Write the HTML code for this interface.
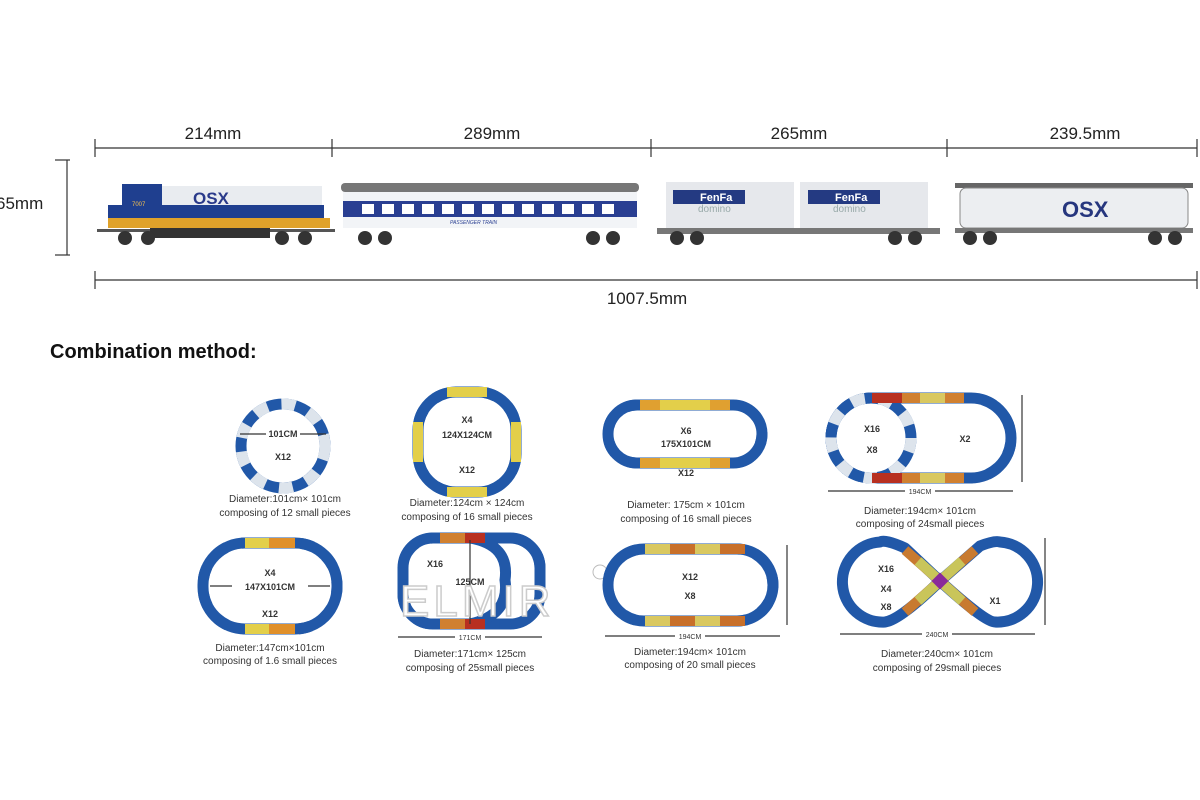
<!DOCTYPE html>
<html><head><meta charset="utf-8"><style>
html,body{margin:0;padding:0;background:#fff;}
svg{display:block;font-family:"Liberation Sans",sans-serif;}
.t{font-size:17px;fill:#222;}
.c{font-size:10px;fill:#333;}
.b{font-size:9px;font-weight:bold;fill:#333;}
.tb{fill:none;stroke:#2158a8;stroke-width:11;}
.tl{fill:none;stroke:#dde4ec;stroke-width:11;stroke-dasharray:14 14;}
.dl{stroke:#333;stroke-width:1.2;fill:none;}
</style></head><body>
<svg width="1200" height="800" viewBox="0 0 1200 800">
<g class="dl" stroke="#222" stroke-width="2">
<line x1="95" y1="148" x2="1197" y2="148"/>
<line x1="95" y1="139" x2="95" y2="157"/><line x1="332" y1="139" x2="332" y2="157"/>
<line x1="651" y1="139" x2="651" y2="157"/><line x1="947" y1="139" x2="947" y2="157"/>
<line x1="1197" y1="139" x2="1197" y2="157"/>
<line x1="95" y1="280" x2="1197" y2="280"/>
<line x1="95" y1="271" x2="95" y2="289"/><line x1="1197" y1="271" x2="1197" y2="289"/>
<line x1="67" y1="160" x2="67" y2="255"/>
<line x1="55" y1="160" x2="70" y2="160"/><line x1="55" y1="255" x2="70" y2="255"/>
</g>
<text class="t" x="213" y="139" text-anchor="middle">214mm</text>
<text class="t" x="492" y="139" text-anchor="middle">289mm</text>
<text class="t" x="799" y="139" text-anchor="middle">265mm</text>
<text class="t" x="1085" y="139" text-anchor="middle">239.5mm</text>
<text class="t" x="-4" y="209">65mm</text>
<text class="t" x="647" y="304" text-anchor="middle">1007.5mm</text>

<g>
<rect x="97" y="229" width="238" height="3" fill="#555"/>
<rect x="122" y="184" width="40" height="38" fill="#1f3f8f"/>
<rect x="162" y="186" width="160" height="30" fill="#e9ecf0"/>
<rect x="108" y="205" width="216" height="13" fill="#1f3f8f"/>
<rect x="108" y="218" width="222" height="10" fill="#e0a22a"/>
<text x="193" y="204" font-size="17" font-weight="bold" fill="#2a3a8a">OSX</text>
<text x="132" y="206" font-size="6" fill="#f4c050">7007</text>
<rect x="150" y="228" width="120" height="10" fill="#333"/>
<circle cx="125" cy="238" r="7" fill="#333"/><circle cx="148" cy="238" r="7" fill="#333"/>
<circle cx="282" cy="238" r="7" fill="#333"/><circle cx="305" cy="238" r="7" fill="#333"/>
</g>
<g>
<rect x="341" y="183" width="298" height="9" rx="4" fill="#777"/>
<rect x="343" y="192" width="294" height="36" fill="#f2f4f7"/>
<rect x="343" y="201" width="294" height="16" fill="#2a3f92"/>
<g fill="#fff">
<rect x="362" y="204" width="12" height="10"/><rect x="382" y="204" width="12" height="10"/><rect x="402" y="204" width="12" height="10"/><rect x="422" y="204" width="12" height="10"/><rect x="442" y="204" width="12" height="10"/><rect x="462" y="204" width="12" height="10"/><rect x="482" y="204" width="12" height="10"/><rect x="502" y="204" width="12" height="10"/><rect x="522" y="204" width="12" height="10"/><rect x="542" y="204" width="12" height="10"/><rect x="562" y="204" width="12" height="10"/><rect x="582" y="204" width="12" height="10"/><rect x="602" y="204" width="12" height="10"/></g>
<text x="450" y="224" font-size="5" fill="#2a3f92" font-style="italic">PASSENGER TRAIN</text>
<circle cx="365" cy="238" r="7" fill="#333"/><circle cx="385" cy="238" r="7" fill="#333"/>
<circle cx="593" cy="238" r="7" fill="#333"/><circle cx="613" cy="238" r="7" fill="#333"/>
</g>
<g>
<rect x="666" y="182" width="128" height="46" fill="#e6e8ec"/>
<rect x="800" y="182" width="128" height="46" fill="#e6e8ec"/>
<rect x="673" y="190" width="72" height="14" fill="#243a82"/>
<rect x="808" y="190" width="72" height="14" fill="#243a82"/>
<text x="700" y="201" font-size="11" font-weight="bold" fill="#fff">FenFa</text>
<text x="835" y="201" font-size="11" font-weight="bold" fill="#fff">FenFa</text>
<text x="698" y="212" font-size="10" fill="#9aa">domino</text>
<text x="833" y="212" font-size="10" fill="#9aa">domino</text>
<rect x="657" y="228" width="283" height="6" fill="#777"/>
<circle cx="677" cy="238" r="7" fill="#333"/><circle cx="697" cy="238" r="7" fill="#333"/>
<circle cx="895" cy="238" r="7" fill="#333"/><circle cx="915" cy="238" r="7" fill="#333"/>
</g>
<g>
<rect x="955" y="183" width="238" height="5" fill="#666"/>
<rect x="960" y="188" width="228" height="40" rx="6" fill="#eceef1" stroke="#888"/>
<text x="1062" y="217" font-size="22" font-weight="bold" fill="#26367e">OSX</text>
<rect x="955" y="228" width="238" height="5" fill="#777"/>
<circle cx="970" cy="238" r="7" fill="#333"/><circle cx="990" cy="238" r="7" fill="#333"/>
<circle cx="1155" cy="238" r="7" fill="#333"/><circle cx="1175" cy="238" r="7" fill="#333"/>
</g>

<text x="50" y="358" font-size="20" font-weight="bold" fill="#111">Combination method:</text>

<circle class="tb" cx="283" cy="446" r="42"/>
<circle class="tl" cx="283" cy="446" r="42"/>
<line class="dl" x1="240" y1="434" x2="326" y2="434"/>
<rect x="266" y="429" width="34" height="10" fill="#fff"/>
<text class="b" x="283" y="437" text-anchor="middle">101CM</text>
<text class="b" x="283" y="460" text-anchor="middle">X12</text>
<text class="c" x="285" y="502" text-anchor="middle">Diameter:101cm× 101cm</text>
<text class="c" x="285" y="516" text-anchor="middle">composing of 12 small pieces</text>

<rect class="tb" x="418" y="392" width="98" height="100" rx="38"/>
<rect class="tb" x="418" y="392" width="98" height="100" rx="38" stroke="#dde4ec" stroke-dasharray="12 16"/>
<rect x="447" y="387" width="40" height="10" fill="#e3cf4a"/><rect x="447" y="487" width="40" height="10" fill="#e3cf4a"/>
<rect x="413" y="422" width="10" height="40" fill="#e3cf4a"/><rect x="511" y="422" width="10" height="40" fill="#e3cf4a"/>
<text class="b" x="467" y="423" text-anchor="middle">X4</text>
<text class="b" x="467" y="438" text-anchor="middle">124X124CM</text>
<text class="b" x="467" y="473" text-anchor="middle">X12</text>
<text class="c" x="467" y="506" text-anchor="middle">Diameter:124cm × 124cm</text>
<text class="c" x="467" y="520" text-anchor="middle">composing of 16 small pieces</text>

<rect class="tb" x="608" y="405" width="154" height="58" rx="29"/>
<rect class="tb" x="608" y="405" width="154" height="58" rx="29" stroke="#dde4ec" stroke-dasharray="12 16"/>
<rect x="640" y="400" width="90" height="10" fill="#e0a030"/><rect x="660" y="400" width="50" height="10" fill="#e3cf4a"/>
<rect x="640" y="458" width="90" height="10" fill="#e0a030"/><rect x="660" y="458" width="50" height="10" fill="#e3cf4a"/>
<text class="b" x="686" y="434" text-anchor="middle">X6</text>
<text class="b" x="686" y="447" text-anchor="middle">175X101CM</text>
<text class="b" x="686" y="476" text-anchor="middle">X12</text>
<text class="c" x="686" y="508" text-anchor="middle">Diameter: 175cm × 101cm</text>
<text class="c" x="686" y="522" text-anchor="middle">composing of 16 small pieces</text>

<rect class="tb" x="831" y="398" width="180" height="80" rx="40"/>
<rect class="tb" x="831" y="398" width="180" height="80" rx="40" stroke="#dde4ec" stroke-dasharray="12 16"/>
<circle class="tb" cx="871" cy="438" r="40"/>
<circle class="tl" cx="871" cy="438" r="40"/>
<rect x="872" y="393" width="92" height="10" fill="#d08030"/><rect x="872" y="393" width="30" height="10" fill="#b83020"/><rect x="920" y="393" width="25" height="10" fill="#d9c860"/>
<rect x="872" y="473" width="92" height="10" fill="#d08030"/><rect x="872" y="473" width="30" height="10" fill="#b83020"/><rect x="920" y="473" width="25" height="10" fill="#d9c860"/>
<text class="b" x="872" y="432" text-anchor="middle">X16</text>
<text class="b" x="872" y="453" text-anchor="middle">X8</text>
<text class="b" x="965" y="442" text-anchor="middle">X2</text>
<line class="dl" x1="828" y1="491" x2="1013" y2="491"/>
<rect x="905" y="487" width="30" height="8" fill="#fff"/>
<text x="920" y="494" font-size="7" fill="#333" text-anchor="middle">194CM</text>
<line class="dl" x1="1022" y1="395" x2="1022" y2="482"/>
<text class="c" x="920" y="514" text-anchor="middle">Diameter:194cm× 101cm</text>
<text class="c" x="920" y="527" text-anchor="middle">composing of 24small pieces</text>

<rect class="tb" x="203" y="543" width="134" height="86" rx="42"/>
<rect class="tb" x="203" y="543" width="134" height="86" rx="42" stroke="#dde4ec" stroke-dasharray="12 16"/>
<rect x="245" y="538" width="24" height="10" fill="#e3cf4a"/><rect x="269" y="538" width="26" height="10" fill="#e0902a"/>
<rect x="245" y="624" width="24" height="10" fill="#e3cf4a"/><rect x="269" y="624" width="26" height="10" fill="#e0902a"/>
<line class="dl" x1="210" y1="586" x2="330" y2="586"/>
<rect x="232" y="579" width="76" height="13" fill="#fff"/>
<text class="b" x="270" y="576" text-anchor="middle">X4</text>
<text class="b" x="270" y="590" text-anchor="middle">147X101CM</text>
<text class="b" x="270" y="617" text-anchor="middle">X12</text>
<text class="c" x="270" y="651" text-anchor="middle">Diameter:147cm×101cm</text>
<text class="c" x="270" y="664" text-anchor="middle">composing of 1.6 small pieces</text>

<rect class="tb" x="403" y="538" width="137" height="86" rx="30"/>
<rect class="tb" x="403" y="538" width="137" height="86" rx="30" stroke="#dde4ec" stroke-dasharray="12 16"/>
<path class="tb" d="M470 538 Q510 545 505 580 Q510 615 470 624"/>
<rect x="440" y="533" width="30" height="10" fill="#d08030"/><rect x="465" y="533" width="20" height="10" fill="#b83020"/>
<rect x="440" y="619" width="30" height="10" fill="#d08030"/><rect x="465" y="619" width="20" height="10" fill="#b83020"/>
<line class="dl" x1="470" y1="540" x2="470" y2="624"/>
<text class="b" x="435" y="567" text-anchor="middle">X16</text>
<text class="b" x="470" y="585" text-anchor="middle">125CM</text>
<text x="400" y="616" font-size="44" fill="#fff" stroke="#ccc" stroke-width="1.5" letter-spacing="4">ELMIR</text>
<circle cx="600" cy="572" r="7" fill="#fff" stroke="#bbb"/>
<line class="dl" x1="398" y1="637" x2="542" y2="637"/>
<rect x="455" y="633" width="30" height="8" fill="#fff"/>
<text x="470" y="640" font-size="7" fill="#333" text-anchor="middle">171CM</text>
<text class="c" x="470" y="657" text-anchor="middle">Diameter:171cm× 125cm</text>
<text class="c" x="470" y="671" text-anchor="middle">composing of 25small pieces</text>

<rect class="tb" x="608" y="549" width="165" height="72" rx="36"/>
<rect class="tb" x="608" y="549" width="165" height="72" rx="36" stroke="#dde4ec" stroke-dasharray="12 16"/>
<rect x="645" y="544" width="100" height="10" fill="#c8702a"/><rect x="645" y="544" width="25" height="10" fill="#d9c860"/><rect x="695" y="544" width="25" height="10" fill="#d9c860"/>
<rect x="645" y="616" width="100" height="10" fill="#c8702a"/><rect x="645" y="616" width="25" height="10" fill="#d9c860"/><rect x="695" y="616" width="25" height="10" fill="#d9c860"/>
<text class="b" x="690" y="580" text-anchor="middle">X12</text>
<text class="b" x="690" y="599" text-anchor="middle">X8</text>
<line class="dl" x1="605" y1="636" x2="780" y2="636"/>
<rect x="675" y="632" width="30" height="8" fill="#fff"/>
<text x="690" y="639" font-size="7" fill="#333" text-anchor="middle">194CM</text>
<line class="dl" x1="787" y1="545" x2="787" y2="625"/>
<text class="c" x="690" y="655" text-anchor="middle">Diameter:194cm× 101cm</text>
<text class="c" x="690" y="668" text-anchor="middle">composing of 20 small pieces</text>

<path class="tb" d="M940 581 L905 548 Q885 539 880 542 A40 40 0 1 0 885 622 Q900 620 940 581 L980 546 Q995 540 1000 542 A40 40 0 1 1 995 622 Q985 622 940 581 Z" stroke-linejoin="round"/>
<path d="M905 550 L975 612 M975 550 L905 612" stroke="#c87a30" stroke-width="10" fill="none"/>
<path d="M918 561 L962 601 M962 561 L918 601" stroke="#c9c55a" stroke-width="10" fill="none"/>
<rect x="934" y="575" width="12" height="12" fill="#8a2a9a" transform="rotate(45 940 581)"/>
<text class="b" x="886" y="572" text-anchor="middle">X16</text>
<text class="b" x="886" y="592" text-anchor="middle">X4</text>
<text class="b" x="886" y="610" text-anchor="middle">X8</text>
<text class="b" x="995" y="604" text-anchor="middle">X1</text>
<line class="dl" x1="840" y1="634" x2="1035" y2="634"/>
<rect x="922" y="630" width="30" height="8" fill="#fff"/>
<text x="937" y="637" font-size="7" fill="#333" text-anchor="middle">240CM</text>
<line class="dl" x1="1045" y1="538" x2="1045" y2="625"/>
<text class="c" x="937" y="657" text-anchor="middle">Diameter:240cm× 101cm</text>
<text class="c" x="937" y="671" text-anchor="middle">composing of 29small pieces</text>
</svg>
</body></html>
